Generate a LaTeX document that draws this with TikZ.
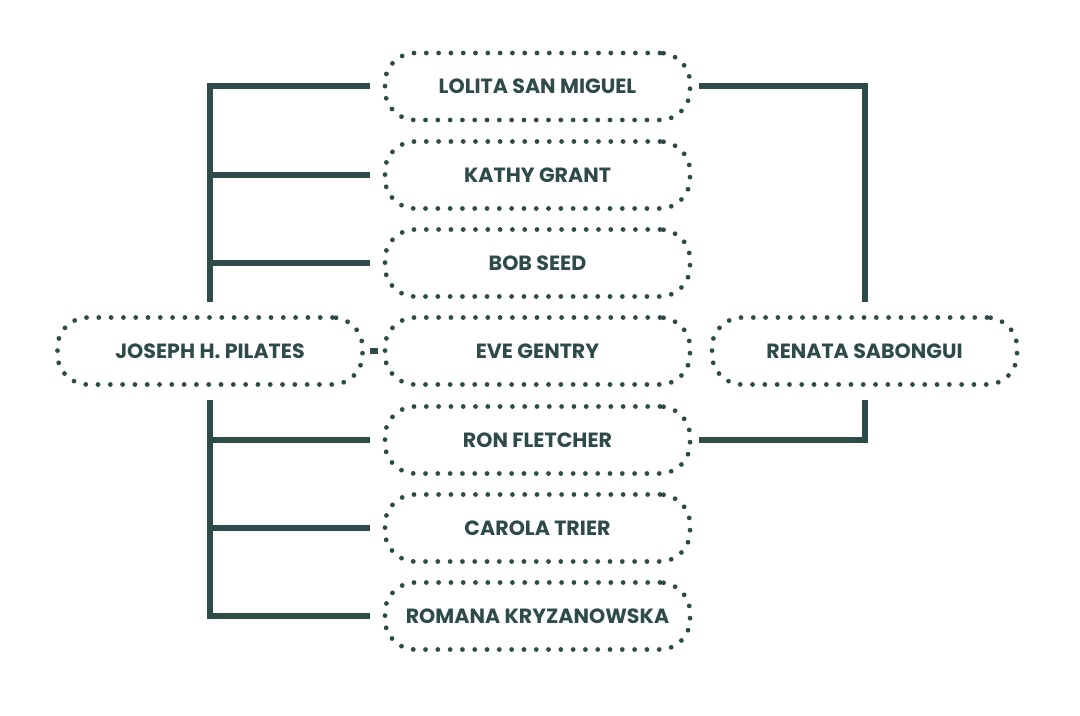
\documentclass[tikz,border=0pt]{standalone}
\usepackage{fontspec}
\setmainfont{Poppins}
\usepackage{xcolor}
\usetikzlibrary{positioning,calc}
\definecolor{pine}{HTML}{2F4B49}

\begin{document}
\begin{tikzpicture}[x=0.5pt, y=-0.5pt,
    pill/.style={draw=pine, line width=2.4pt, line cap=round,
        dash pattern=on 0pt off 6.15pt, rounded corners=15pt,
        minimum width=152.5pt, minimum height=33.5pt, inner sep=0pt,
        text=pine, font=\fontsize{10.3}{12}\selectfont\bfseries},
    link/.style={draw=pine, line width=3pt}]
\useasboundingbox (0,0) rectangle (1080,716);
% Teachers in the middle column
\node[pill] (lolita) at (537.5,86.5) {LOLITA SAN MIGUEL};
\node[pill] (kathy) at (537.5,175) {KATHY GRANT};
\node[pill] (bob) at (537.5,263) {BOB SEED};
\node[pill] (eve) at (537.5,351) {EVE GENTRY};
\node[pill] (ron) at (537.5,440) {RON FLETCHER};
\node[pill] (carola) at (537.5,528) {CAROLA TRIER};
\node[pill] (romana) at (537.5,616) {ROMANA KRYZANOWSKA};
% Founder and last student
\node[pill] (joseph) at (210,351) {JOSEPH H. PILATES};
\node[pill] (renata) at (864.5,351) {RENATA SABONGUI};

% Left tree
\foreach \who in {lolita,kathy,bob}
  \draw[link, shorten <=6.5pt, shorten >=6.5pt] (joseph.north) |- (\who.west);
\foreach \who in {ron,carola,romana}
  \draw[link, shorten <=6.5pt, shorten >=6.5pt] (joseph.south) |- (\who.west);
\draw[link, shorten <=2.5pt, shorten >=2.2pt] (joseph.east) -- (eve.west);

% Right bracket
\draw[link, shorten <=3.5pt, shorten >=6.5pt] (lolita.east) -| (renata.north);
\draw[link, shorten <=3.5pt, shorten >=6.5pt] (ron.east) -| (renata.south);
\end{tikzpicture}
\end{document}
